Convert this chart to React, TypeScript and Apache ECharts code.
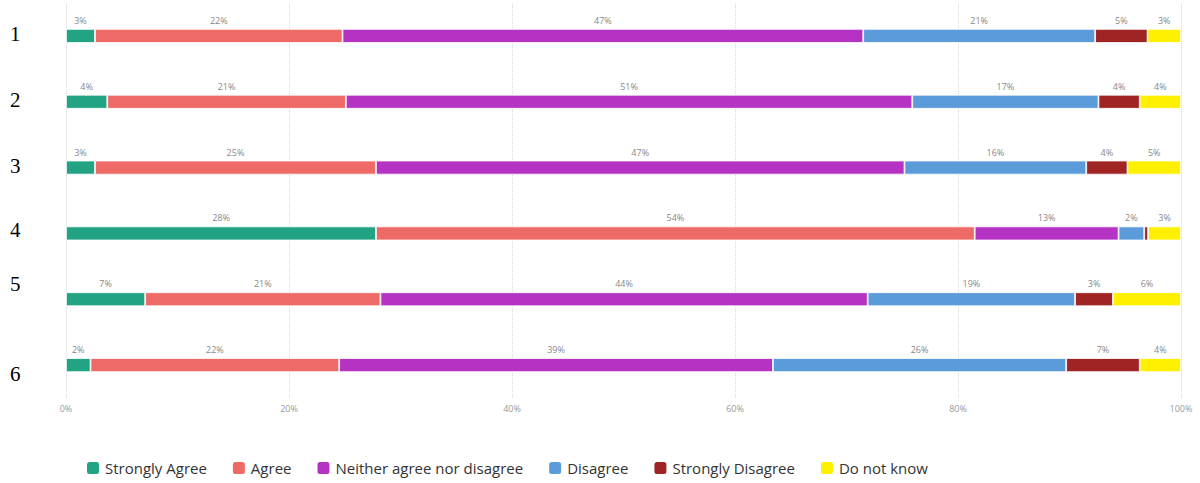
import React, { useEffect, useRef } from "react";
import * as echarts from "echarts";

const categories = ["1", "2", "3", "4", "5", "6"];
const seriesNames = [
  "Strongly Agree",
  "Agree",
  "Neither agree nor disagree",
  "Disagree",
  "Strongly Disagree",
  "Do not know",
];
const colors = ["#22a383", "#ee6a67", "#b433c3", "#5b9bd9", "#a02424", "#fff000"];

const stronglyAgree = [2.6, 3.7, 2.6, 27.8, 7.1, 2.2];
const agree = [22.2, 21.4, 25.2, 53.7, 21.1, 22.3];
const neither = [46.7, 50.8, 47.4, 12.9, 43.7, 38.9];
const disagree = [20.8, 16.7, 16.3, 2.3, 18.6, 26.3];
const stronglyDisagree = [4.7, 3.7, 3.7, 0.35, 3.4, 6.6];
const doNotKnow = [3.0, 3.7, 4.8, 2.95, 6.1, 3.7];

const allValues = [stronglyAgree, agree, neither, disagree, stronglyDisagree, doNotKnow];
const xTicks = [0, 20, 40, 60, 80, 100];

// styling: vertical nudge of each row label
const rowLabelStyles: Record<string, any> = {
  r0: { padding: [0, 0, 4, 0] },
  r1: { padding: [0, 0, 4, 0] },
  r2: { padding: [0, 0, 4, 0] },
  r3: { padding: [0, 0, 6, 0] },
  r4: { padding: [0, 0, 30, 0] },
  r5: { padding: [18, 0, 0, 0] },
};

export default function App() {
  const ref = useRef<HTMLDivElement>(null);
  useEffect(() => {
    if (!ref.current) return;
    const chart = echarts.init(ref.current, null, { renderer: "svg" });
    const richBase: Record<string, any> = {};
    Object.keys(rowLabelStyles).forEach((k) => {
      richBase[k] = {
        ...rowLabelStyles[k],
        fontFamily: "Liberation Serif",
        fontSize: 21,
        color: "#000",
      };
    });
    chart.setOption({
      animation: false,
      grid: { left: 66, right: 19, top: 3, bottom: 85, containLabel: false },
      legend: {
        bottom: 2,
        left: 80,
        itemWidth: 14,
        itemHeight: 14,
        itemGap: 24,
        icon: "roundRect",
        textStyle: { fontFamily: "Open Sans", fontSize: 15, color: "#333" },
        data: seriesNames,
      },
      xAxis: {
        type: "value",
        min: xTicks[0],
        max: xTicks[xTicks.length - 1],
        interval: 20,
        axisLine: { show: false },
        axisTick: { show: false },
        axisLabel: {
          formatter: (v: number) => v + "%",
          fontFamily: "Open Sans",
          fontSize: 9,
          color: "#999",
          margin: 6,
        },
        splitLine: { show: true, lineStyle: { type: "dotted", color: "#d8d8d8", width: 1 } },
      },
      yAxis: {
        type: "category",
        data: categories,
        inverse: true,
        axisLine: { show: false },
        axisTick: { show: false },
        axisLabel: {
          margin: 56,
          align: "left",
          formatter: (v: string) => `{r${categories.indexOf(v)}|${v}}`,
          rich: richBase,
        },
      },
      series: seriesNames.map((name, i) => ({
        name,
        type: "bar",
        stack: "total",
        barWidth: 14,
        data: allValues[i],
        itemStyle: { color: colors[i], borderColor: "#fff", borderWidth: 0.8 },
        label: {
          show: true,
          position: "top",
          distance: 4,
          fontFamily: "Open Sans",
          fontSize: 9,
          color: "#888",
          formatter: (p: any) => (p.value < 1 ? "" : Math.round(p.value) + "%"),
        },
      })),
    });
    return () => chart.dispose();
  }, []);
  return (
    <div
      ref={ref}
      style={{ position: "absolute", left: 0, top: 0, width: 1200, height: 483 }}
    />
  );
}
